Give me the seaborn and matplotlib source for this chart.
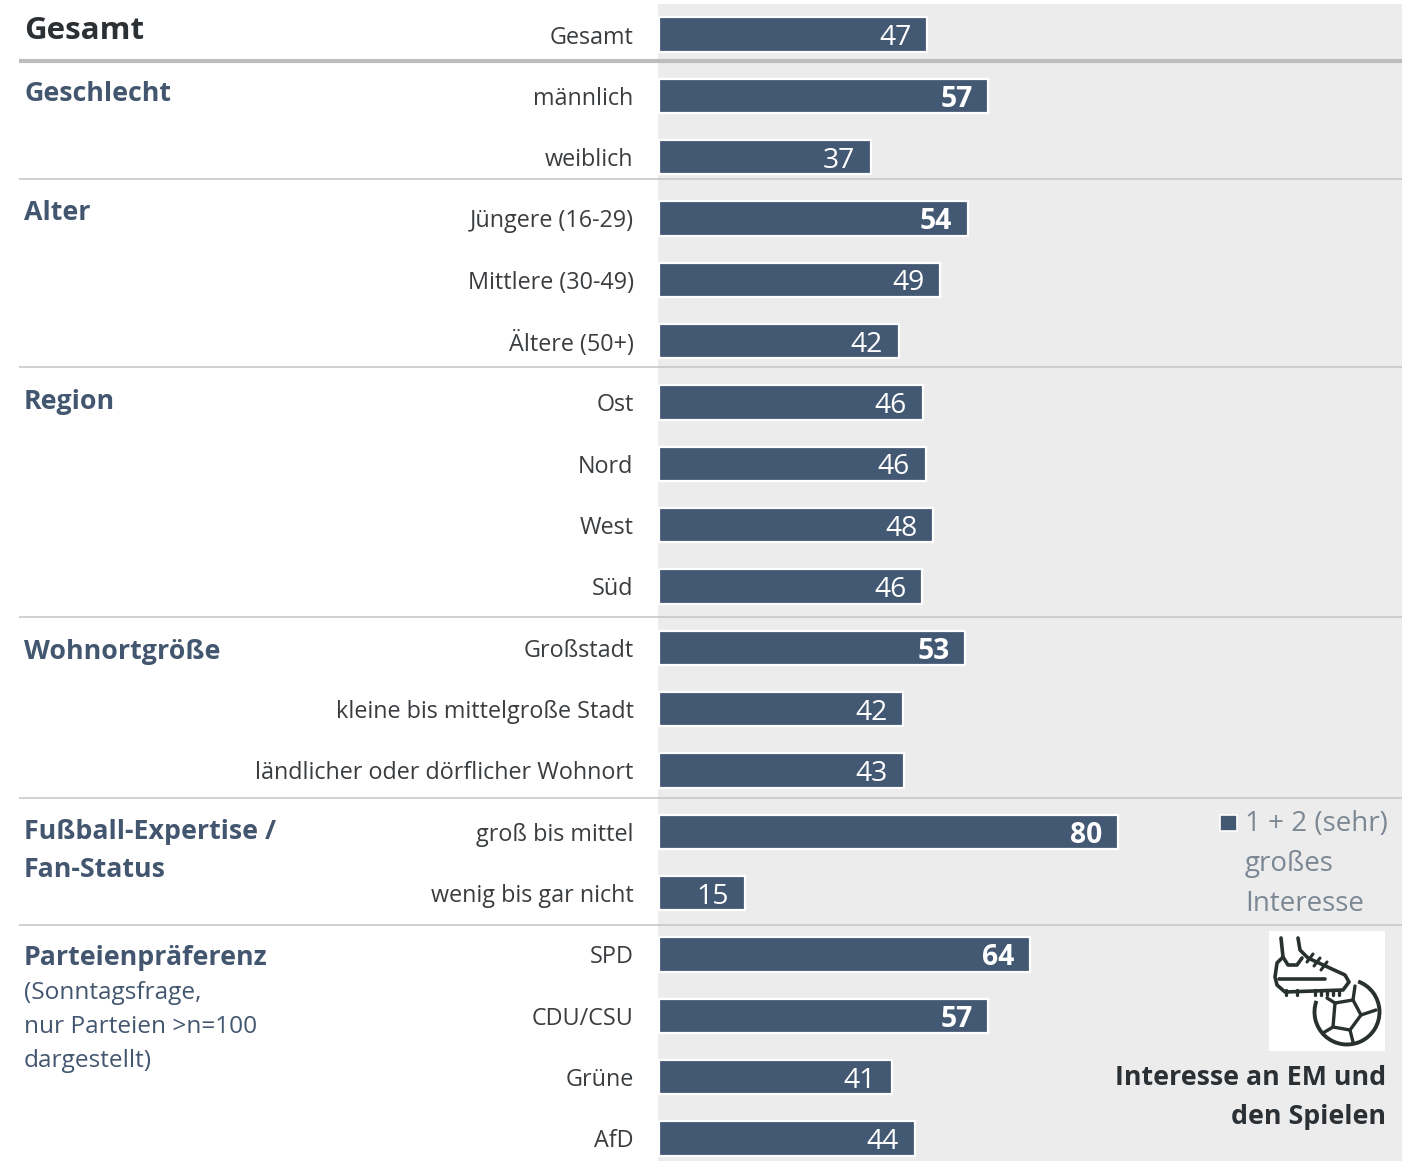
import matplotlib.pyplot as plt
import seaborn as sns
from matplotlib.patches import Arc, Rectangle

W, H = 1402, 1161
BAR = "#435873"
HEAD = "#43566f"
DARK = "#2b3035"
TEXT = "#3a3d40"
GREY = "#7b8894"
BG = "#ececec"
LINE = "#c9c9c9"

categories = [
    "Gesamt", "männlich", "weiblich", "Jüngere (16-29)", "Mittlere (30-49)",
    "Ältere (50+)", "Ost", "Nord", "West", "Süd", "Großstadt",
    "kleine bis mittelgroße Stadt", "ländlicher oder dörflicher Wohnort",
    "groß bis mittel", "wenig bis gar nicht", "SPD", "CDU/CSU", "Grüne", "AfD",
]
# bar lengths as measured, the printed numbers are the rounded ones
values = [46.7, 57.3, 36.8, 53.8, 48.9, 41.7, 45.9, 46.4, 47.7, 45.8, 53.3,
          42.5, 42.6, 79.9, 14.9, 64.6, 57.3, 40.5, 44.5]
value_labels = [47, 57, 37, 54, 49, 42, 46, 46, 48, 46, 53, 42, 43, 80, 15, 64, 57, 41, 44]
bold_labels = [1, 3, 10, 13, 15, 16]

groups = ["Geschlecht", "Alter", "Region", "Wohnortgröße", "Fußball-Expertise /\nFan-Status", "Parteienpräferenz"]
group_y = [94, 213, 402, 652, 851, 958]
separators = [179, 367, 617, 798, 925]

sns.set_theme(style="white")
plt.rcParams["font.family"] = ["Open Sans", "DejaVu Sans"]

fig = plt.figure(figsize=(W / 100, H / 100), dpi=100, facecolor="white")

# chart panel, 61.33 px per row and 5.74 px per percent
ax = fig.add_axes([658 / W, 0, 1 - 658 / W, 1 - 4 / H])
ax.set_facecolor(BG)
sns.barplot(
    x=values, y=categories, orient="h", color=BAR, saturation=1, width=0.56,
    edgecolor="white", linewidth=1.6, ax=ax,
)
ax.set_xlim(-1.3 / 5.74, (W - 659.3) / 5.74)
ax.set_ylim((H - 34.5) / 61.33, -30.5 / 61.33)
ax.set_xticks([])
ax.tick_params(axis="y", length=0, pad=17.6, labelsize=16.8, labelcolor=TEXT)
sns.despine(ax=ax, left=True, bottom=True)

labels = ax.bar_label(ax.containers[0], labels=value_labels, padding=-23, fontsize=20.3, color="white")
for i, lab in enumerate(labels):
    lab.set_ha("center")
    lab.set_va("center")
    lab.xyann = (-23, -2.5)
    lab.set_fontweight("bold" if i in bold_labels else "normal")

# overlay in pixels for the left headings, rules, legend and icon
ov = fig.add_axes([0, 0, 1, 1], zorder=5)
ov.set_xlim(0, W)
ov.set_ylim(H, 0)
ov.axis("off")

ov.plot([19, W], [60.5, 60.5], color="#bdbdbd", lw=3, solid_capstyle="butt")
for y in separators:
    ov.plot([19, W], [y, y], color=LINE, lw=1.2, solid_capstyle="butt")

ov.text(24, 31, "Gesamt", fontsize=22.5, fontweight="bold", color=DARK, va="center")
for name, y in zip(groups, group_y):
    ov.text(24, y, name, fontsize=19.3, fontweight="bold", color=HEAD, va="center", linespacing=1.6)
ov.text(24, 1027, "(Sonntagsfrage,\nnur Parteien >n=100\ndargestellt)", fontsize=17.6,
        color=HEAD, va="center", linespacing=1.53)

# legend
ov.add_patch(Rectangle((1220, 815), 17, 16, fc=BAR, ec="white", lw=1.2))
ov.text(1245, 864, "1 + 2 (sehr)\ngroßes\nInteresse", fontsize=20, color=GREY, va="center", linespacing=1.55)

# icon
ICON = "#29312f"
ov.add_patch(Rectangle((1269, 931), 116, 120, fc="white", ec="none"))
boot = [(1281, 938), (1283, 957), (1277, 963), (1275, 977), (1277, 985), (1285, 992), (1343, 990),
        (1349, 982), (1345, 975), (1308, 958), (1300, 950), (1298, 938)]
ov.plot(*zip(*boot), color=ICON, lw=2.6)
ov.plot([1279, 1325], [979, 979], color=ICON, lw=2.6)
ov.plot([1283, 1288, 1297, 1302], [957, 965, 965, 958], color=ICON, lw=2.6)
for x, y in [(1310, 958), (1317, 962), (1324, 966)]:
    ov.plot([x - 3, x + 3], [y + 4, y - 4], color=ICON, lw=2.2)
for x in [1286, 1297, 1315, 1321, 1327, 1333, 1339]:
    ov.plot([x, x], [990, 995], color=ICON, lw=2.4)
ov.add_patch(Arc((1347, 1012), 65, 65, theta1=-70, theta2=200, color=ICON, lw=2.8))
pent = [(1335, 1003), (1353, 1000), (1361, 1015), (1350, 1030), (1333, 1027), (1335, 1003)]
ov.plot(*zip(*pent), color=ICON, lw=2.4)
for a, b in [((1353, 1000), (1355, 986)), ((1361, 1015), (1376, 1010)), ((1350, 1030), (1353, 1042)),
             ((1333, 1027), (1323, 1033)), ((1335, 1003), (1327, 998))]:
    ov.plot([a[0], b[0]], [a[1], b[1]], color=ICON, lw=2.4)

ov.text(1386, 1078, "Interesse an EM und", fontsize=19.3, fontweight="bold", color=DARK, ha="right", va="center")
ov.text(1386, 1117, "den Spielen", fontsize=19.3, fontweight="bold", color=DARK, ha="right", va="center")

fig.savefig("out.png", dpi=100, facecolor="white")
